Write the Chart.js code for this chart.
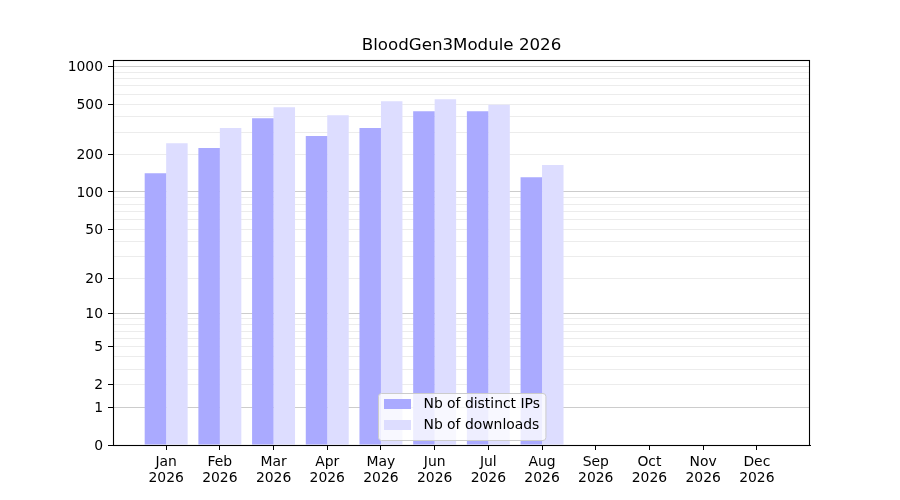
<!DOCTYPE html>
<html><head><meta charset="utf-8">
<script src="https://cdn.jsdelivr.net/npm/chart.js@4.4.0/dist/chart.umd.min.js"></script>
<style>html,body{margin:0;padding:0;background:#fff}</style>
</head><body>
<canvas id="c" width="900" height="500"></canvas>
<script>
const chartTitle = 'BloodGen3Module 2026';
const months = ['Jan','Feb','Mar','Apr','May','Jun','Jul','Aug','Sep','Oct','Nov','Dec'];
const year = '2026';
const distinctIPs = [141, 224, 387, 279, 323, 440, 440, 131, 0, 0, 0, 0];
const downloads   = [245, 323, 474, 409, 528, 548, 494, 164, 0, 0, 0, 0];
const seriesLabels = ['Nb of distinct IPs', 'Nb of downloads'];
const yTickLabels = [0, 1, 2, 5, 10, 20, 50, 100, 200, 500, 1000];
const yMajorGrid = [1, 10, 100, 1000];
const yMinorGrid = [3, 4, 6, 7, 8, 9, 30, 40, 60, 70, 80, 90, 300, 400, 600, 700, 800, 900];
const seriesColors = ['#aaaaff', '#ddddff'];

const tr = v => Math.log10(1 + v);
const inv = t => Math.round(Math.pow(10, t) - 1);

Chart.defaults.font.family = "'DejaVu Sans', sans-serif";
Chart.defaults.font.size = 13.9;
Chart.defaults.color = '#000';

const framePlugin = {
  id: 'frame',
  afterDraw(chart) {
    const a = chart.chartArea, c = chart.ctx;
    c.save();
    c.strokeStyle = '#000';
    c.lineWidth = 1.1;
    c.strokeRect(Math.round(a.left) + 0.5, Math.round(a.top) + 0.5,
                 Math.round(a.right - a.left) - 1, Math.round(a.bottom - a.top));
    c.restore();
  }
};

const legendPlugin = {
  id: 'innerLegend',
  afterDraw(chart) {
    const a = chart.chartArea, c = chart.ctx;
    const ds = chart.data.datasets;
    c.save();
    c.font = "13.9px 'DejaVu Sans', sans-serif";
    let tw = 0;
    ds.forEach(d => { tw = Math.max(tw, c.measureText(d.label).width); });
    const padL = 6, handleW = 27, gap = 12, padR = 6;
    const w = padL + handleW + gap + tw + padR;
    const h = 47;
    const cx = (a.left + a.right) / 2;
    const x0 = Math.round(cx - w / 2) + 0.5;
    const y0 = Math.round(a.bottom - 5 - h) + 0.5;
    const r = 3;
    c.beginPath();
    c.moveTo(x0 + r, y0);
    c.lineTo(x0 + w - r, y0); c.quadraticCurveTo(x0 + w, y0, x0 + w, y0 + r);
    c.lineTo(x0 + w, y0 + h - r); c.quadraticCurveTo(x0 + w, y0 + h, x0 + w - r, y0 + h);
    c.lineTo(x0 + r, y0 + h); c.quadraticCurveTo(x0, y0 + h, x0, y0 + h - r);
    c.lineTo(x0, y0 + r); c.quadraticCurveTo(x0, y0, x0 + r, y0);
    c.closePath();
    c.fillStyle = 'rgba(255,255,255,0.8)';
    c.fill();
    c.strokeStyle = '#cccccc';
    c.lineWidth = 1;
    c.stroke();
    ds.forEach((d, i) => {
      const rowTop = y0 + 6 + i * 21;
      c.fillStyle = d.backgroundColor;
      c.fillRect(x0 + padL - 0.5, rowTop - 0.5, handleW, 10);
      c.fillStyle = '#000';
      c.textBaseline = 'middle';
      c.textAlign = 'left';
      c.fillText(d.label, x0 + padL + handleW + gap, rowTop + 5);
    });
    c.restore();
  }
};

new Chart(document.getElementById('c'), {
  type: 'bar',
  data: {
    datasets: [
      {
        label: seriesLabels[0],
        data: months.map((m, i) => ({ x: i, y: tr(distinctIPs[i]) })),
        backgroundColor: seriesColors[0],
        borderWidth: 0,
        categoryPercentage: 0.8,
        barPercentage: 1.0
      },
      {
        label: seriesLabels[1],
        data: months.map((m, i) => ({ x: i, y: tr(downloads[i]) })),
        backgroundColor: seriesColors[1],
        borderWidth: 0,
        categoryPercentage: 0.8,
        barPercentage: 1.0
      }
    ]
  },
  options: {
    responsive: false,
    animation: false,
    devicePixelRatio: 1,
    layout: { padding: { left: 0, right: 90, top: 0, bottom: 0 } },
    plugins: {
      legend: { display: false },
      tooltip: { enabled: false },
      title: {
        display: true,
        text: chartTitle,
        fullSize: false,
        color: '#000',
        font: { size: 16.67, weight: 'normal', lineHeight: 1.2 },
        padding: { top: 36, bottom: 4 }
      }
    },
    scales: {
      x: {
        type: 'linear',
        min: -0.99,
        max: 11.99,
        offset: false,
        z: 1,
        afterBuildTicks: s => { s.ticks = months.map((m, i) => ({ value: i })); },
        afterFit: s => { s.height = 55; },
        ticks: {
          autoSkip: false,
          maxRotation: 0,
          padding: 5,
          font: { lineHeight: 1.12 },
          callback: v => [months[v], year]
        },
        grid: { offset: false, drawOnChartArea: false, drawTicks: true, tickLength: 5, tickColor: '#000' },
        border: { display: true, color: '#000' }
      },
      y: {
        type: 'linear',
        min: 0,
        max: 3.05,
        z: 1,
        afterBuildTicks: s => {
          const all = yTickLabels.concat(yMinorGrid).sort((p, q) => p - q);
          s.ticks = all.map(v => ({ value: tr(v) }));
        },
        afterFit: s => { s.width = 113; },
        ticks: {
          autoSkip: false,
          padding: 5,
          labelOffset: 1,
          callback: v => { const r = inv(v); return yTickLabels.includes(r) ? String(r) : ''; }
        },
        grid: {
          offset: false,
          drawTicks: true,
          tickLength: 5,
          color: c => {
            const r = inv(c.tick.value);
            if (r === 0) return 'rgba(0,0,0,0)';
            return yMajorGrid.includes(r) ? 'rgba(0,0,0,0.2)' : 'rgba(0,0,0,0.075)';
          },
          tickColor: c => yTickLabels.includes(inv(c.tick.value)) ? '#000' : 'rgba(0,0,0,0)'
        },
        border: { display: true, color: '#000' }
      }
    }
  },
  plugins: [framePlugin, legendPlugin]
});
</script>
</body></html>
